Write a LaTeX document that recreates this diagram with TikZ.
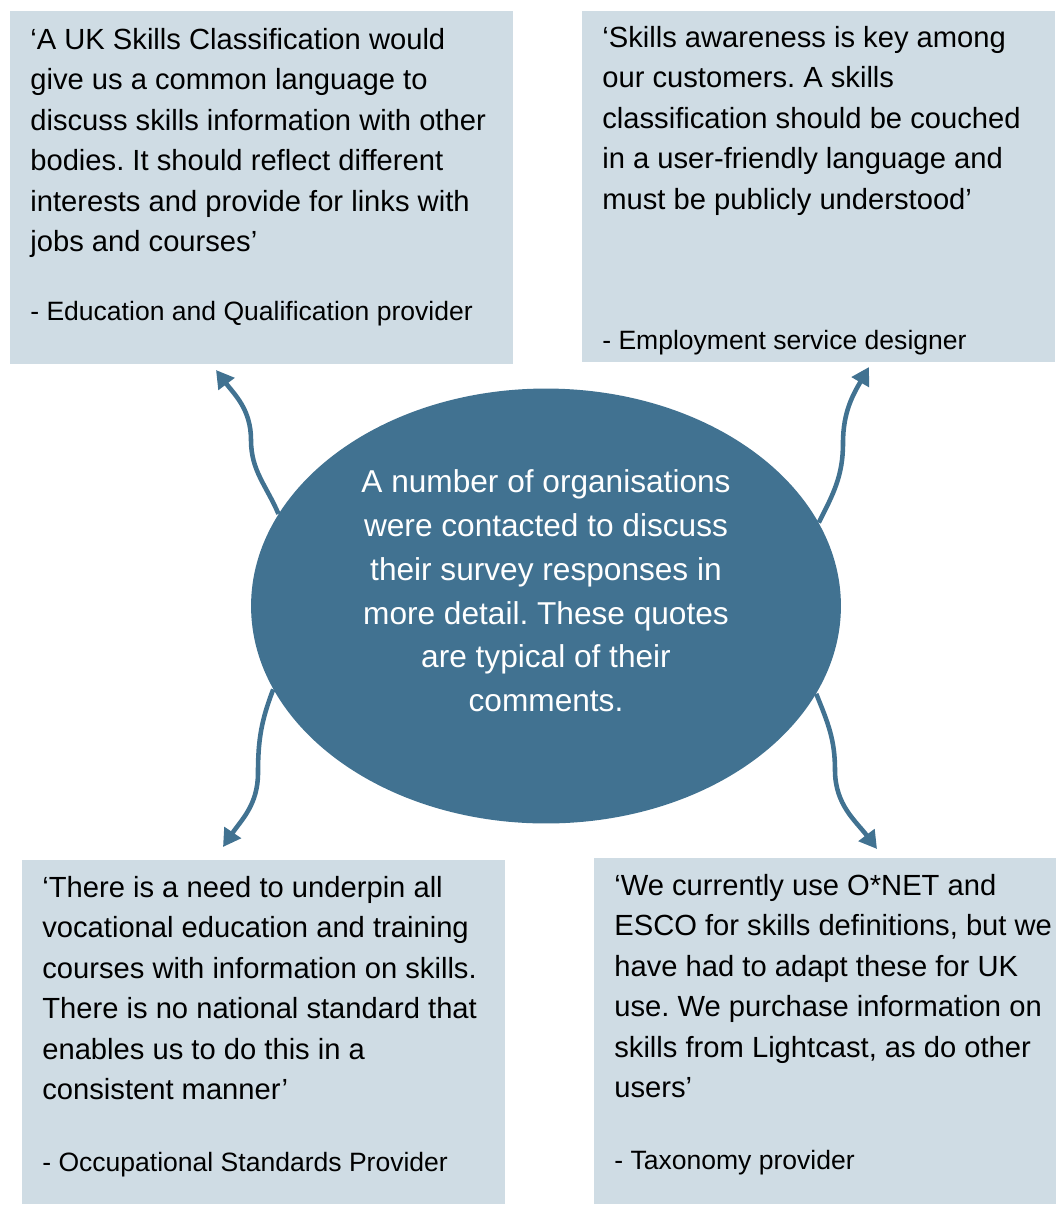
\documentclass[tikz,border=0pt]{standalone}
\usepackage{fontspec}
\setmainfont{Liberation Sans}
\usetikzlibrary{arrows.meta,shapes.geometric}
\definecolor{boxblue}{RGB}{207,220,228}
\definecolor{hubblue}{RGB}{65,114,145}
\frenchspacing

\begin{document}
\begin{tikzpicture}[x=0.02cm,y=0.02cm,
    quotebox/.style={rectangle, fill=boxblue, inner sep=0pt},
    quote/.style={anchor=north west, inner sep=0pt, align=left, font=\fontsize{16.6}{23}\selectfont},
    source/.style={anchor=north west, inner sep=0pt, font=\fontsize{15.1}{20}\selectfont},
    hub/.style={ellipse, fill=hubblue, minimum width=11.8cm, minimum height=8.7cm, inner sep=0pt},
    link/.style={hubblue, line width=2.6pt, -{Triangle[length=10pt,width=11pt]}}]
    \useasboundingbox (0,0) rectangle (1056,-1205);
    % boxes
    \node[quotebox, minimum width=10.06cm, minimum height=7.06cm] (b1) at (261.5,-187.5) {};
    \node[quotebox, minimum width=9.46cm, minimum height=7.02cm] (b2) at (818.5,-186.5) {};
    \node[quotebox, minimum width=9.66cm, minimum height=6.88cm] (b3) at (263.5,-1032) {};
    \node[quotebox, minimum width=9.24cm, minimum height=6.92cm] (b4) at (825,-1031) {};
    % quotes
    \node[quote] (q1) at (30,-28) {‘A UK Skills Classification would\\give us a common language to\\discuss skills information with other\\bodies. It should reflect different\\interests and provide for links with\\jobs and courses’};
    \node[source] (s1) at (30,-301) {- Education and Qualification provider};
    \node[quote] (q2) at (602,-26) {‘Skills awareness is key among\\our customers. A skills\\classification should be couched\\in a user-friendly language and\\must be publicly understood’};
    \node[source] (s2) at (602,-330) {- Employment service designer};
    \node[quote] (q3) at (42,-876) {‘There is a need to underpin all\\vocational education and training\\courses with information on skills.\\There is no national standard that\\enables us to do this in a\\consistent manner’};
    \node[source] (s3) at (42,-1152) {- Occupational Standards Provider};
    \node[quote] (q4) at (614,-874) {‘We currently use O*NET and\\ESCO for skills definitions, but we\\have had to adapt these for UK\\use. We purchase information on\\skills from Lightcast, as do other\\users’};
    \node[source] (s4) at (614,-1150) {- Taxonomy provider};
    % centre
    \node[hub] (hub) at (546,-606) {};
    \node[anchor=north, inner sep=0pt, align=center, text=white, font=\fontsize{18}{25}\selectfont] (hubtext) at (546,-469) {A number of organisations\\were contacted to discuss\\their survey responses in\\more detail. These quotes\\are typical of their\\comments.};
    % arrow ends
    \coordinate (t1) at (216,-370);
    \coordinate (t2) at (869,-367);
    \coordinate (t3) at (223,-847);
    \coordinate (t4) at (877,-849);
    \draw[link] (hub.161.8) to[out=113,in=-90] (251,-440) to[out=90,in=-53] (t1);
    \draw[link] (hub.17.5) to[out=63,in=-90] (843,-443) to[out=90,in=-120] (t2);
    \draw[link] (hub.197.2) to[out=-111,in=90] (258,-773) to[out=-90,in=56] (t3);
    \draw[link] (hub.342.5) to[out=-68,in=90] (835,-770) to[out=-90,in=127] (t4);
\end{tikzpicture}
\end{document}
